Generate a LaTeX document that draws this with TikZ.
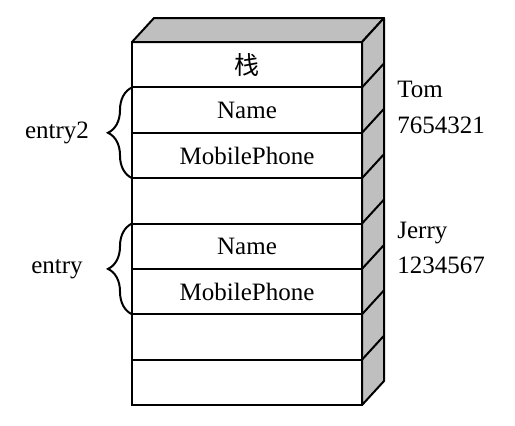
\documentclass[tikz,border=0pt]{standalone}
\usepackage{fontspec}
\setmainfont{Liberation Serif}
\newfontfamily\cjk{Noto Sans CJK SC}
\usetikzlibrary{positioning,calc,decorations.pathreplacing}
\tikzset{cell/.style={draw,line width=1pt,minimum width=115pt,minimum height=22.69pt,inner sep=0pt,outer sep=0pt,font=\fontsize{12.5}{15}\selectfont},
side/.style={draw,fill=gray!50,line width=1pt,line join=round},
brc/.style={decorate,decoration={brace,amplitude=12pt},line width=1pt},
lab/.style={font=\fontsize{12.5}{15}\selectfont,inner sep=0pt}}

\begin{document}
\begin{tikzpicture}[x=.5pt,y=-.5pt]
\useasboundingbox (0,0) rectangle (515,425);
\node[cell] (r1) at (247,64.7) {\cjk 栈};
\node[cell,below=0pt of r1] (r2) {Name};
\node[cell,below=0pt of r2] (r3) {MobilePhone};
\node[cell,below=0pt of r3] (r4) {};
\node[cell,below=0pt of r4] (r5) {Name};
\node[cell,below=0pt of r5] (r6) {MobilePhone};
\node[cell,below=0pt of r6] (r7) {};
\node[cell,below=0pt of r7] (r8) {};
% top and side faces
\filldraw[side] (r1.north west) -- ++(22,-24) -- ($(r1.north east)+(22,-24)$) -- (r1.north east) -- cycle;
\filldraw[side] (r1.north east) -- ++(22,-24) -- ($(r8.south east)+(22,-24)$) -- (r8.south east) -- cycle;
\draw[line width=1pt] (r1.south east) -- ++(22,-24) (r2.south east) -- ++(22,-24)
  (r3.south east) -- ++(22,-24) (r4.south east) -- ++(22,-24) (r5.south east) -- ++(22,-24)
  (r6.south east) -- ++(22,-24) (r7.south east) -- ++(22,-24);
% braces
\draw[brc] (r3.south west) -- (r2.north west);
\draw[brc] (r6.south west) -- (r5.north west);
\coordinate (t2) at ($(r2.north west)!.5!(r3.south west)+(-24,0)$);
\coordinate (t1) at ($(r5.north west)!.5!(r6.south west)+(-24,0)$);
\node[lab] (entry2) at ($(t2)+(-51,0)$) {entry2};
\node[lab] (entry) at ($(t1)+(-51,0)$) {entry};
% values
\node[lab,anchor=base west] (tom) at (397,97) {Tom};
\node[lab,anchor=base west] (tomnum) at (397,133) {7654321};
\node[lab,anchor=base west] (jerry) at (397,238) {Jerry};
\node[lab,anchor=base west] (jerrynum) at (397,273) {1234567};
\end{tikzpicture}
\end{document}
